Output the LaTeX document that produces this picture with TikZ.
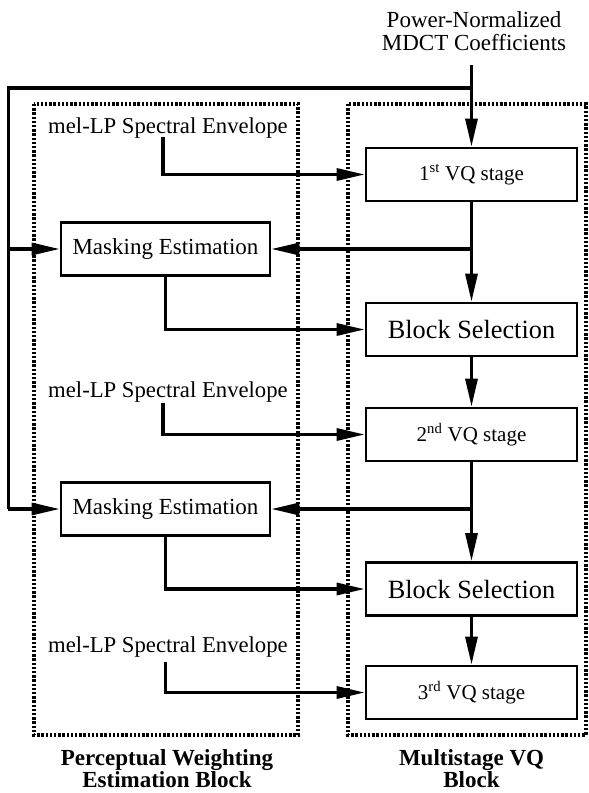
\documentclass[tikz,border=0pt]{standalone}
\usepackage{fontspec}
\setmainfont{Liberation Serif}
\usetikzlibrary{arrows.meta}
\begin{document}
\begin{tikzpicture}[x=1pt,y=-1pt,
  stagebox/.style={draw,line width=2.7pt,minimum width=211pt,minimum height=53pt,inner sep=0pt},
  maskbox/.style={draw,line width=2.7pt,minimum width=209pt,minimum height=53pt,inner sep=0pt,font=\fontsize{23}{27}\selectfont},
  vqfont/.style={font=\fontsize{21}{25}\selectfont},
  bsfont/.style={font=\fontsize{26.3}{30}\selectfont},
  envtext/.style={anchor=west,inner sep=0pt,font=\fontsize{22.7}{27}\selectfont},
  wire/.style={line width=3.2pt},
  conn/.style={line width=3.2pt,-{Triangle[length=28pt,width=12pt]}},
  dotbox/.style={line width=3.4pt,dash pattern=on 2.4pt off 1.8pt},
  caption/.style={align=center,inner sep=0pt,font=\fontsize{23}{22}\selectfont\bfseries}
]
\useasboundingbox (0,0) rectangle (589,793);

% dotted enclosures
\draw[dotbox] (34,104) rectangle (298,735);
\draw[dotbox] (348,104) rectangle (586,735);

% title
\node[align=center,inner sep=0pt,font=\fontsize{23}{23}\selectfont] (title) at (474,31) {Power-Normalized\\MDCT Coefficients};

% right column
\node[stagebox,vqfont] (VQ1) at (471.5,174.5) {1\textsuperscript{st} VQ stage};
\node[stagebox,bsfont] (BS1) at (471.5,329.5) {Block Selection};
\node[stagebox,vqfont] (VQ2) at (471.5,434.5) {2\textsuperscript{nd} VQ stage};
\node[stagebox,bsfont] (BS2) at (471.5,589) {Block Selection};
\node[stagebox,vqfont] (VQ3) at (471.5,692.5) {3\textsuperscript{rd} VQ stage};

% left column
\node[maskbox] (M1) at (165.5,249) {Masking Estimation};
\node[maskbox] (M2) at (165.5,509) {Masking Estimation};
\node[envtext] (E1) at (48,128) {mel-LP Spectral Envelope};
\node[envtext] (E2) at (48,392) {mel-LP Spectral Envelope};
\node[envtext] (E3) at (48,647) {mel-LP Spectral Envelope};

% captions
\node[caption] (C1) at (167,768.5) {Perceptual Weighting\\Estimation Block};
\node[caption] (C2) at (471.5,768.5) {Multistage VQ\\Block};

% coordinates
\coordinate (in) at (471.5,65);
\coordinate (j0) at (471.5,88);
\coordinate (fa) at (8.3,88);
\coordinate (fb) at (8.3,509);
\coordinate (e1) at (163,137);
\coordinate (e2) at (163,403);
\coordinate (e3) at (165.5,662);

% main chain
\draw[conn] (in) -- (VQ1.north);
\draw[conn] (VQ1.south) -- (BS1.north);
\draw[conn] (BS1.south) -- (VQ2.north);
\draw[conn] (VQ2.south) -- (BS2.north);
\draw[conn] (BS2.south) -- (VQ3.north);

% feedback of input to masking estimation
\draw[wire] (j0) -- (fa) -- (fb);
\draw[conn] (fa |- M1.west) -- (M1.west);
\draw[conn] (fb) -- (M2.west);

% VQ outputs to masking estimation
\draw[conn] (VQ1.south |- M1.east) -- (M1.east);
\draw[conn] (VQ2.south |- M2.east) -- (M2.east);

% masking to block selection
\draw[conn] (M1.south) |- (BS1.west);
\draw[conn] (M2.south) |- (BS2.west);

% spectral envelopes to VQ stages
\draw[conn] (e1) |- (VQ1.west);
\draw[conn] (e2) |- (VQ2.west);
\draw[conn] (e3) |- (VQ3.west);
\end{tikzpicture}
\end{document}
